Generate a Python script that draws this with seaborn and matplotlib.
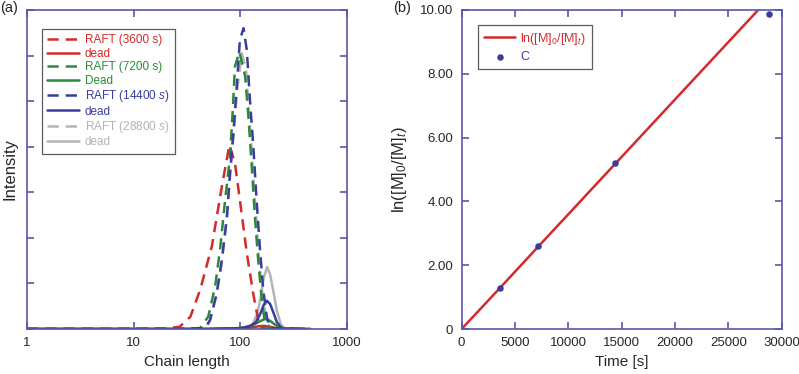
import pandas as pd
import matplotlib.pyplot as plt
import seaborn as sns
import numpy as np
from matplotlib.lines import Line2D

## values
# panel (a): chain length distributions (intensity, arbitrary units)
raft3600_x = [1, 10, 20, 27, 34, 42, 54, 67, 79, 89, 99, 115, 132, 147, 159, 200, 400]
raft3600_y = [0, 0, 0.01, 0.05, 0.27, 0.86, 1.81, 3.12, 4.04, 3.64, 2.83, 1.66, 0.78, 0.20, 0.02, 0, 0]
dead3600_x = [1, 50, 110, 140, 165, 190, 220, 250, 400]
dead3600_y = [0, 0, 0.01, 0.05, 0.07, 0.05, 0.01, 0, 0]

raft7200_x = [1, 10, 30, 42, 50, 58, 65, 72, 80, 85, 89, 98, 111, 119, 128, 137, 147, 159, 170, 183, 450]
raft7200_y = [0, 0, 0.01, 0.02, 0.27, 0.93, 1.81, 2.83, 3.78, 4.81, 5.76, 6.08, 5.54, 4.66, 3.56, 2.46, 1.51, 0.64, 0.13, 0.02, 0]
dead7200_x = [1, 50, 100, 130, 150, 170, 190, 210, 230, 260, 400]
dead7200_y = [0, 0, 0.02, 0.08, 0.16, 0.22, 0.18, 0.10, 0.04, 0, 0]

raft14400_x = [1, 10, 30, 47, 52, 60, 67, 75, 80, 86, 93, 99, 107, 115, 123, 133, 142, 153, 164, 177, 190, 450]
raft14400_y = [0, 0, 0, 0.02, 0.20, 0.78, 1.51, 2.46, 3.42, 4.29, 5.39, 6.34, 6.60, 6.12, 5.03, 3.93, 2.83, 1.73, 0.86, 0.27, 0.02, 0]
dead14400_x = [1, 50, 100, 120, 140, 155, 165, 177, 190, 205, 220, 240, 260, 400]
dead14400_y = [0, 0, 0.02, 0.05, 0.15, 0.35, 0.52, 0.62, 0.55, 0.35, 0.15, 0.04, 0, 0]

raft28800_x = [1, 10, 30, 47, 52, 60, 67, 74, 80, 86, 93, 103, 113, 121, 130, 140, 150, 162, 175, 190, 470]
raft28800_y = [0, 0, 0, 0.02, 0.18, 0.75, 1.45, 2.40, 3.35, 4.20, 5.20, 6.05, 5.70, 4.70, 3.60, 2.50, 1.50, 0.70, 0.20, 0.02, 0]
dead28800_x = [1, 50, 110, 130, 145, 155, 165, 178, 190, 205, 220, 240, 260, 400]
dead28800_y = [0, 0, 0.02, 0.10, 0.35, 0.70, 1.10, 1.36, 1.20, 0.80, 0.40, 0.10, 0.02, 0]

# panel (b): first order kinetics
time_s = [0, 3600, 7200, 14400, 28800]
ln_fit = [0, 1.29, 2.59, 5.18, 10.36]
ln_exp = [0, 1.28, 2.60, 5.20, 9.88]

red = "#d42a2a"
green = "#2a8a3a"
blue = "#3a3c9e"
grey = "#b4b4b4"
axcol = "#5858a8"
DASH = (4.5, 2.8)

sns.set_style("ticks")
plt.rcParams["font.family"] = ["Liberation Sans", "DejaVu Sans"]
plt.rcParams["mathtext.fontset"] = "custom"
plt.rcParams["mathtext.rm"] = "Liberation Sans"
plt.rcParams["mathtext.it"] = "Liberation Sans:italic"

fig = plt.figure(figsize=(7.99, 3.74), dpi=100)
ax1 = fig.add_axes([0.0338, 0.1203, 0.4005, 0.853])
ax2 = fig.add_axes([0.5778, 0.1203, 0.4005, 0.853])

series = [
    (raft3600_x, raft3600_y, red, "--", "RAFT (3600 s)"),
    (dead3600_x, dead3600_y, red, "-", "dead"),
    (raft7200_x, raft7200_y, green, "--", "RAFT (7200 s)"),
    (dead7200_x, dead7200_y, green, "-", "Dead"),
    (raft14400_x, raft14400_y, blue, "--", r"RAFT (14400 $\mathit{s}$)"),
    (dead14400_x, dead14400_y, blue, "-", "dead"),
    (raft28800_x, raft28800_y, grey, "--", r"RAFT (28800 $\mathit{s}$)"),
    (dead28800_x, dead28800_y, grey, "-", "dead"),
]
order = [6, 7, 0, 1, 2, 3, 4, 5]  # grey drawn first, coloured on top
for i in order:
    x, y, c, ls, lab = series[i]
    sns.lineplot(x=x, y=y, ax=ax1, color=c, lw=1.8, legend=False)
    ln = ax1.lines[-1]
    ln.set_linestyle(ls)
    if ls == "--":
        ln.set_dashes(DASH)

ax1.set_xscale("log")
ax1.set_xlim(1, 1000)
ax1.set_ylim(0, 7)
ax1.set_yticks(range(8))
ax1.set_yticklabels([])
ax1.set_xticks([1, 10, 100, 1000])
ax1.set_xticklabels(["1", "10", "100", "1000"])
ax1.minorticks_off()
ax1.set_xlabel("Chain length", fontsize=11)
ax1.set_ylabel("Intensity", fontsize=12, labelpad=1)

handles = []
for x, y, c, ls, lab in series:
    h = Line2D([], [], color=c, lw=1.8, linestyle=ls, label=lab)
    if ls == "--":
        h.set_dashes(DASH)
    handles.append(h)
leg1 = ax1.legend(handles=handles, loc="upper left", bbox_to_anchor=(0.047, 0.94),
                  borderaxespad=0, fontsize=8.5, labelcolor="linecolor", frameon=True,
                  fancybox=False, edgecolor="#333333", handlelength=2.7,
                  handletextpad=0.45, borderpad=0.45, labelspacing=0.12)
leg1.get_frame().set_linewidth(0.9)

sns.lineplot(x=time_s, y=ln_fit, ax=ax2, color=red, lw=1.8, label=r"ln([M]$_0$/[M]$_\mathit{t}$)")
sns.scatterplot(x=time_s[1:], y=ln_exp[1:], ax=ax2, color=blue, s=22, edgecolor=blue,
                linewidth=0, label="C", zorder=5)
ax2.set_xlim(0, 30000)
ax2.set_ylim(0, 10)
ax2.set_xticks(range(0, 30001, 5000))
ax2.set_yticks([0, 2, 4, 6, 8, 10])
ax2.set_yticklabels(["0", "2.00", "4.00", "6.00", "8.00", "10.00"])
ax2.set_xlabel("Time [s]", fontsize=11)
ax2.set_ylabel(r"ln([M]$_0$/[M]$_\mathit{t}$)", fontsize=12, labelpad=8)
leg2 = ax2.legend(loc="upper left", bbox_to_anchor=(0.051, 0.953), borderaxespad=0,
                  fontsize=9, labelcolor="linecolor", frameon=True, fancybox=False,
                  edgecolor="#333333", handlelength=2.55, handletextpad=0.4,
                  borderpad=0.45, labelspacing=0.35)
leg2.get_frame().set_linewidth(0.9)
for t in leg2.get_texts():
    if t.get_text() == "C":
        t.set_color(blue)

for ax in (ax1, ax2):
    for sp in ax.spines.values():
        sp.set_visible(True)
        sp.set_color(axcol)
        sp.set_linewidth(1.2)
    ax.tick_params(direction="in", length=5, width=1.2, color=axcol, labelsize=9.5,
                   top=True, right=True, pad=6)

fig.text(0.0, 0.998, "(a)", fontsize=10.5, va="top", ha="left")
fig.text(0.492, 0.998, "(b)", fontsize=10.5, va="top", ha="left")

plt.savefig("out.png", dpi=100)
plt.close()
